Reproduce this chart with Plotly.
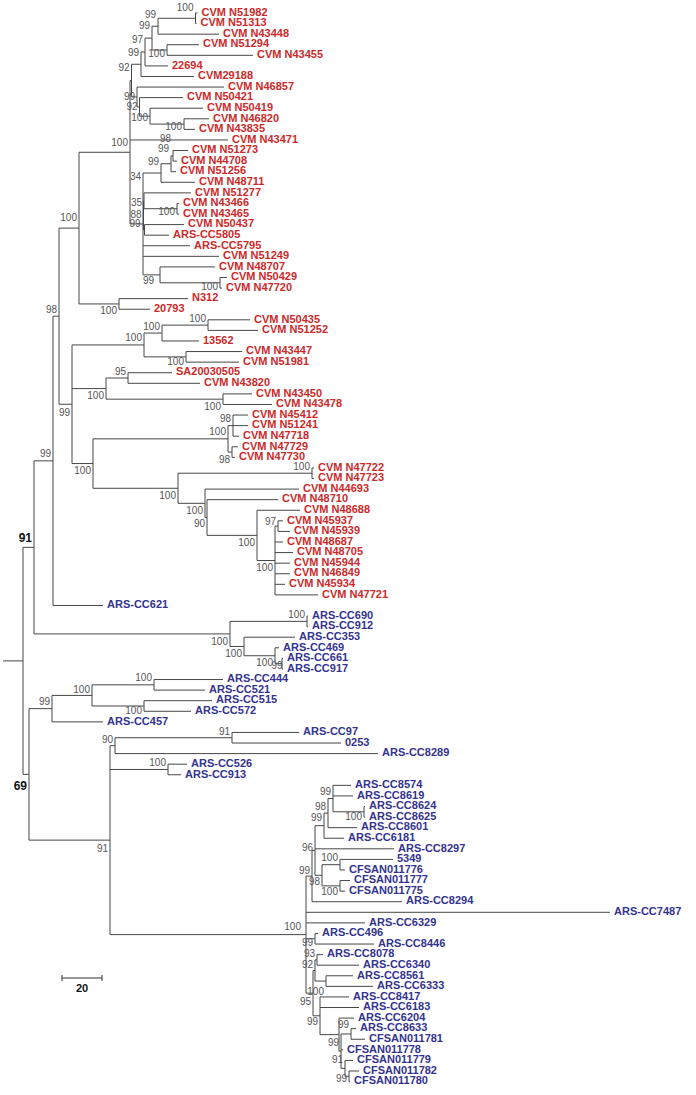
import plotly.graph_objects as go

# ---------------- data: leaves (top to bottom) ----------------
leaf_names = [
    "CVM N51982", "CVM N51313", "CVM N43448", "CVM N51294", "CVM N43455", "22694", "CVM29188",
    "CVM N46857", "CVM N50421", "CVM N50419", "CVM N46820", "CVM N43835", "CVM N43471",
    "CVM N51273", "CVM N44708", "CVM N51256", "CVM N48711", "CVM N51277", "CVM N43466",
    "CVM N43465", "CVM N50437", "ARS-CC5805", "ARS-CC5795", "CVM N51249", "CVM N48707",
    "CVM N50429", "CVM N47720", "N312", "20793", "CVM N50435", "CVM N51252", "13562",
    "CVM N43447", "CVM N51981", "SA20030505", "CVM N43820", "CVM N43450", "CVM N43478",
    "CVM N45412", "CVM N51241", "CVM N47718", "CVM N47729", "CVM N47730", "CVM N47722",
    "CVM N47723", "CVM N44693", "CVM N48710", "CVM N48688", "CVM N45937", "CVM N45939",
    "CVM N48687", "CVM N48705", "CVM N45944", "CVM N46849", "CVM N45934", "CVM N47721",
    "ARS-CC621", "ARS-CC690", "ARS-CC912", "ARS-CC353", "ARS-CC469", "ARS-CC661", "ARS-CC917",
    "ARS-CC444", "ARS-CC521", "ARS-CC515", "ARS-CC572", "ARS-CC457", "ARS-CC97", "0253",
    "ARS-CC8289", "ARS-CC526", "ARS-CC913", "ARS-CC8574", "ARS-CC8619", "ARS-CC8624",
    "ARS-CC8625", "ARS-CC8601", "ARS-CC6181", "ARS-CC8297", "5349", "CFSAN011776",
    "CFSAN011777", "CFSAN011775", "ARS-CC8294", "ARS-CC7487", "ARS-CC6329", "ARS-CC496",
    "ARS-CC8446", "ARS-CC8078", "ARS-CC6340", "ARS-CC8561", "ARS-CC6333", "ARS-CC8417",
    "ARS-CC6183", "ARS-CC6204", "ARS-CC8633", "CFSAN011781", "CFSAN011778", "CFSAN011779",
    "CFSAN011782", "CFSAN011780",
]
leaf_clade = "R" * 56 + "B" * 46

leaf_parent = [
    "n1_2", "n1_2", "n1_3", "n4_5", "n4_5", "n1_6", "n1_7", "nB", "nC", "n10_12", "n11_12", "n11_12",
    "n130", "n14_15", "n14_15", "n14_16", "n14_17", "n35", "n19_20", "n19_20", "n99e", "n99e",
    "nD", "nD", "n25_27", "n26_27", "n26_27", "n28_29", "n28_29", "n30_31", "n30_31", "n30_32",
    "n33_34", "n33_34", "n35_36", "n35_36", "n37_38", "n37_38", "n39_41", "n39_41", "n39_41",
    "n42_43", "n42_43", "n44_45", "n44_45", "nS", "nT", "nW", "n49_50", "n49_50",
    "nY", "nY", "nY", "nY", "nY", "nY",
    "n99a", "n58_59", "n58_59", "n60_63", "n61_63", "n62_63", "n62_63", "n64_65", "n64_65",
    "n66_67", "n66_67", "n99f", "n69_70", "n69_70", "n90", "n72_73", "n72_73", "n99p", "n99p",
    "n76_77", "n76_77", "n98p", "n99q", "n96", "n81_82", "n81_82", "n83_84", "n83_84", "n99r",
    "n100z", "n100z", "n88_89", "n88_89", "n90_91", "n90_91", "n92_93", "n92_93", "n99y",
    "n99y", "nU", "n97_98", "n97_98", "nT2", "nS2", "n101_102", "n101_102",
]

# distance from root (substitutions scale units) of each leaf tip
leaf_depth = [
    87.25, 86.75, 98, 88, 115, 72.5, 85.5, 100.5, 80, 90, 93, 86, 102.5, 82.5, 77, 76.5, 86,
    84, 78, 78, 80.5, 73, 83.5, 98, 96, 102, 99.5, 82.5, 63.5, 113.5, 117.5, 88, 109.5, 108,
    74.5, 88.5, 114.5, 124.5, 112.5, 112.5, 108, 107.5, 106, 145.5, 145.5, 138, 127.5, 138.5,
    130, 133.5, 130, 135, 133.5, 133.5, 131, 147.5,
    40, 142.5, 142.5, 136, 128, 130, 130, 100, 91, 94.5, 84, 40, 138, 159, 177.5, 82, 79,
    164, 165, 171, 171, 167, 160.5, 185.5, 185, 161, 163.5, 161, 189.5, 293.5, 171, 147.5,
    175.5, 150, 168, 165, 175, 163, 168, 165.5, 166.5, 171, 160, 165, 168, 163.5,
]

# ---------------- data: internal nodes ----------------
node_ids = [
    "root", "n91", "n69", "n99a", "n98", "n100a", "n130", "nA", "n1_7", "n1_6", "n1_5", "n1_3",
    "n1_2", "n4_5", "nB", "nC", "n10_12", "n11_12", "nD", "n14_17", "n14_16", "n14_15", "n88",
    "n35", "n19_20", "n99e", "n25_27", "n26_27", "n28_29", "n72", "n100c", "n30_32", "n30_31",
    "n33_34", "n100d", "n35_36", "n37_38", "nQ", "nP", "n39_41", "n42_43", "nV", "n44_45",
    "nS", "nT", "nW", "nY", "n49_50", "n58_63", "n58_59", "n60_63", "n61_63", "n62_63",
    "n99f", "n64_67", "n64_65", "n66_67", "nZ", "n90", "n69_70", "n72_73", "n100z", "n99r",
    "n96", "n99q", "n98p", "n99p", "n76_77", "n98q", "n81_82", "n83_84", "n88_89", "n95",
    "n92", "n90_91", "n92_93", "n99y", "nU", "nT2", "n97_98", "nS2", "n101_102",
]
node_parent = [
    None, "root", "root", "n91", "n99a", "n98", "n100a", "n130", "nA", "n1_7", "n1_6", "n1_5",
    "n1_3", "n1_5", "nA", "nB", "nC", "n10_12", "n130", "nD", "n14_17", "n14_16", "nD",
    "n88", "n35", "n88", "nD", "n25_27", "n100a", "n98", "n72", "n100c", "n30_32",
    "n100c", "n72", "n100d", "n100d", "n72", "nQ", "nP", "nP", "nQ", "nV",
    "nV", "nS", "nT", "nW", "nY", "n91", "n58_63", "n58_63", "n60_63", "n61_63",
    "n69", "n99f", "n64_67", "n64_67", "n69", "nZ", "n90", "nZ", "nZ", "n100z",
    "n99r", "n96", "n99q", "n98p", "n99p", "n96", "n98q", "n98q", "n100z", "n100z",
    "n95", "n92", "n92", "n95", "n99y", "nU", "nT2", "nT2", "nS2",
]
node_depth = [
    0, 5.5, 3, 15, 18, 28, 53.5, 54.25, 59, 61, 64.5, 67.5,
    86.25, 72, 57, 58.25, 63.5, 80.5, 60, 69, 74, 75, 60.25,
    60.5, 77, 60.75, 68.5, 98.5, 48, 24.5, 60.5, 69.5, 92.5,
    81.5, 41.5, 52.5, 100, 35, 102.5, 105, 104.5, 77.5, 144.5,
    91, 92, 117, 126, 127.5, 103.5, 142, 110.5, 126, 129.5,
    14.5, 34.5, 65.5, 60.5, 43.5, 46, 104.5, 72.5, 141.5, 144.5,
    146, 150.5, 152.5, 155, 170.5, 149.5, 158.5, 158.5, 146, 145,
    146, 147, 151.5, 148.5, 158, 159, 164, 161, 163,
]
node_support = [
    "", "91", "69", "99", "98", "100", "100", "92", "99", "97", "99", "99",
    "100", "100", "99", "92", "100", "100", "34", "99", "99", "98", "88",
    "35", "100", "99", "99", "100", "100", "99", "100", "100", "100",
    "100", "100", "95", "100", "100", "100", "98", "98", "100", "100",
    "100", "90", "100", "100", "97", "100", "100", "100", "100", "99",
    "99", "100", "100", "100", "91", "90", "91", "100", "100", "99",
    "96", "99", "98", "99", "100", "98", "100", "100", "99", "95",
    "92", "93", "100", "99", "", "99", "99", "91", "99",
]
bold_support = ["n91", "n69"]
root_stub = 10
scale_bar_length = 20

# ---------------- layout / style ----------------
W, H = 696, 1095
X0_PX, PX_PER_UNIT = 23.0, 2.0       # pixel of the root, pixels per unit
Y0_PX, ROW_PX = 13.0, 10.58          # pixel of first leaf, leaf spacing
RED, BLUE = "#cc2a2a", "#33338f"
LINE = "#474747"
SUPPORT_COL = "#555555"
FONT = "Liberation Sans, Arial, sans-serif"

# vertical offsets (px) of the support labels relative to their node
label_dy = {
    "n91": -8, "n69": 13, "n99a": -6, "n98": -6, "n100a": -10, "n130": -9, "nA": -12.6,
    "n1_7": -11, "n1_6": -12, "n1_5": -12, "n1_3": -11, "n1_2": -10, "n4_5": 4, "nB": 1,
    "nC": 1, "n10_12": 2, "n11_12": 3, "nD": -46.5, "n14_17": -11, "n14_16": -14,
    "n14_15": -16, "n88": 0, "n35": 3, "n19_20": 4, "n99e": -5, "n25_27": 7, "n26_27": 4.5,
    "n28_29": 8, "n72": 9, "n100c": -6, "n30_32": -6, "n30_31": -6, "n33_34": 6,
    "n100d": 8, "n35_36": -6, "n37_38": 8, "nQ": 8, "nP": -6, "n39_41": -6, "n42_43": 8,
    "nV": 8, "n44_45": -6, "nS": 8, "nT": 7, "nW": 8, "nY": 8, "n49_50": -4, "n58_63": 9,
    "n58_59": -6, "n60_63": 8, "n61_63": 8, "n62_63": 3, "n99f": -6, "n64_67": -5,
    "n64_65": -6, "n66_67": 6, "nZ": 9, "n90": -5, "n69_70": -5, "n72_73": -6,
    "n100z": -7, "n99r": -5, "n96": -2, "n99q": -7, "n98p": -6, "n99p": -6, "n76_77": 6,
    "n98q": 7, "n81_82": -6, "n83_84": 7, "n88_89": 5, "n95": 9, "n92": -5, "n90_91": -5,
    "n92_93": 11, "n99y": 7, "nT2": -8, "n97_98": -8, "nS2": -8, "n101_102": 3,
}
label_dx_default = -2.0
label_dx = {"n62_63": 0.5, "n99e": -4, "n100z": -5, "n25_27": -6}

# ---------------- compute tree geometry ----------------
depth = dict(zip(node_ids, node_depth))
parent = dict(zip(node_ids, node_parent))
children = {n: [] for n in node_ids}
ypos = {}
for i, (nm, p, d) in enumerate(zip(leaf_names, leaf_parent, leaf_depth)):
    key = ("leaf", i)
    depth[key] = d
    parent[key] = p
    ypos[key] = i + 1
    children[p].append(key)
for n, p in zip(node_ids, node_parent):
    if p is not None:
        children[p].append(n)


def get_y(n):
    if n in ypos:
        return ypos[n]
    ys = [get_y(c) for c in children[n]]
    ypos[n] = (min(ys) + max(ys)) / 2.0
    return ypos[n]


get_y("root")

lx, ly = [], []
for n, p in parent.items():
    if p is None:
        continue
    lx += [depth[p], depth[n], None]
    ly += [ypos[n], ypos[n], None]
for n in node_ids:
    ys = [ypos[c] for c in children[n]]
    lx += [depth[n], depth[n], None]
    ly += [min(ys), max(ys), None]
lx += [-root_stub, 0, None]
ly += [ypos["root"], ypos["root"], None]

fig = go.Figure()
fig.add_trace(go.Scatter(x=lx, y=ly, mode="lines", line=dict(color=LINE, width=1),
                         hoverinfo="skip", showlegend=False))

gap = 4.0 / PX_PER_UNIT
for clade, col in (("R", RED), ("B", BLUE)):
    idx = [i for i in range(len(leaf_names)) if leaf_clade[i] == clade]
    fig.add_trace(go.Scatter(
        x=[leaf_depth[i] + gap for i in idx], y=[i + 1 for i in idx],
        text=["<b>%s</b>" % leaf_names[i] for i in idx], mode="text",
        textposition="middle right", textfont=dict(family=FONT, size=11, color=col),
        hoverinfo="skip", showlegend=False, cliponaxis=False))

sx, sy, st = [], [], []
bx, by, bt = [], [], []
for n, s in zip(node_ids, node_support):
    if not s:
        continue
    x = depth[n] + label_dx.get(n, label_dx_default) / PX_PER_UNIT
    y = ypos[n] + label_dy.get(n, -6) / ROW_PX
    if n in bold_support:
        bx.append(x); by.append(y); bt.append("<b>%s</b>" % s)
    else:
        sx.append(x); sy.append(y); st.append(s)
fig.add_trace(go.Scatter(x=sx, y=sy, text=st, mode="text", textposition="middle left",
                         textfont=dict(family=FONT, size=10, color=SUPPORT_COL),
                         hoverinfo="skip", showlegend=False, cliponaxis=False))
fig.add_trace(go.Scatter(x=bx, y=by, text=bt, mode="text", textposition="middle left",
                         textfont=dict(family=FONT, size=12, color="#111111"),
                         hoverinfo="skip", showlegend=False, cliponaxis=False))

# scale bar
sb_x0 = (62 - X0_PX) / PX_PER_UNIT
sb_y = 1 + (978 - Y0_PX) / ROW_PX
tick = 3.0 / ROW_PX
fig.add_trace(go.Scatter(
    x=[sb_x0, sb_x0 + scale_bar_length, None, sb_x0, sb_x0, None,
       sb_x0 + scale_bar_length, sb_x0 + scale_bar_length],
    y=[sb_y, sb_y, None, sb_y - tick, sb_y + tick, None, sb_y - tick, sb_y + tick],
    mode="lines", line=dict(color="#333333", width=1), hoverinfo="skip", showlegend=False))
fig.add_trace(go.Scatter(x=[sb_x0 + scale_bar_length / 2], y=[sb_y + 11 / ROW_PX],
                         text=["<b>%d</b>" % scale_bar_length], mode="text",
                         textposition="middle center",
                         textfont=dict(family=FONT, size=11, color="#111111"),
                         hoverinfo="skip", showlegend=False, cliponaxis=False))

x_lo = -X0_PX / PX_PER_UNIT
x_hi = (W - X0_PX) / PX_PER_UNIT
y_top = 1 - Y0_PX / ROW_PX
y_bot = 1 + (H - Y0_PX) / ROW_PX
fig.update_layout(
    width=W, height=H, margin=dict(l=0, r=0, t=0, b=0),
    paper_bgcolor="white", plot_bgcolor="white",
    xaxis=dict(range=[x_lo, x_hi], visible=False, fixedrange=True),
    yaxis=dict(range=[y_bot, y_top], visible=False, fixedrange=True),
)
fig.write_html("out.html",
               config={"displayModeBar": False, "staticPlot": True},
               post_script="document.body.style.margin='0px';"
                           "document.body.style.overflow='hidden';")
